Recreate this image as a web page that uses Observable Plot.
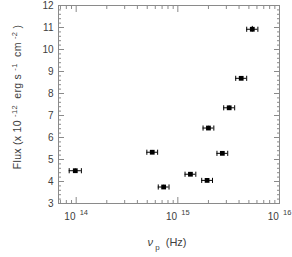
<!DOCTYPE html>
<html><head><meta charset="utf-8">
<script src="https://cdn.jsdelivr.net/npm/d3@7"></script>
<script src="https://cdn.jsdelivr.net/npm/@observablehq/plot@0.6"></script>
<style>
body{margin:0;background:#fff}
svg{font-family:"Liberation Sans",Arial,Helvetica,sans-serif}
</style>
</head><body><div id="chart"></div>
<script>
// peak frequency (Hz) and flux (x 1e-12 erg s^-1 cm^-2)
const nu       = [9.8e13, 5.6e14, 7.25e14, 1.33e15, 1.94e15, 2.0e15, 2.74e15, 3.2e15, 4.2e15, 5.4e15];
const flux     = [4.49,   5.33,   3.75,    4.33,    4.05,    6.43,   5.28,    7.35,   8.69,   10.92];
const nuErrDex = [0.060,  0.053,  0.053,   0.053,   0.053,   0.053,  0.053,   0.054,  0.054,  0.055];
const fluxErr  = [0.08,   0.08,   0.08,    0.08,    0.08,    0.08,   0.08,    0.08,   0.08,   0.13];

const xMajor = [1e14, 1e15, 1e16];
const xMinor = [7e13, 8e13, 9e13, 2e14, 3e14, 4e14, 5e14, 6e14, 7e14, 8e14, 9e14,
                2e15, 3e15, 4e15, 5e15, 6e15, 7e15, 8e15, 9e15];
const yMajor = [3, 4, 5, 6, 7, 8, 9, 10, 11, 12];
const yMinor = [3.2,3.4,3.6,3.8,4.2,4.4,4.6,4.8,5.2,5.4,5.6,5.8,6.2,6.4,6.6,6.8,
                7.2,7.4,7.6,7.8,8.2,8.4,8.6,8.8,9.2,9.4,9.6,9.8,10.2,10.4,10.6,10.8,
                11.2,11.4,11.6,11.8];

const data = nu.map((v, i) => ({
  nu: v, flux: flux[i],
  lo: v / Math.pow(10, nuErrDex[i]), hi: v * Math.pow(10, nuErrDex[i]),
  ylo: flux[i] - fluxErr[i], yhi: flux[i] + fluxErr[i]
}));

const axisColor = "#8a8a8a";
const textColor = "#404040";
const cap = {draw(ctx, size) { const h = Math.sqrt(size); ctx.moveTo(0, -h / 2); ctx.lineTo(0, h / 2); }};
const empty = () => "";

const plot = Plot.plot({
  width: 292, height: 257,
  marginLeft: 58, marginRight: 13, marginTop: 5, marginBottom: 54,
  style: {fontSize: "10px", background: "#fff"},
  x: {type: "log", domain: [6.7e13, 1e16]},
  y: {domain: [3, 12]},
  marks: [
    Plot.frame({stroke: axisColor}),
    Plot.axisX({ticks: xMajor, anchor: "bottom", tickSize: -6, tickPadding: 15, stroke: axisColor, fill: textColor,
      tickFormat: d => "10^" + Math.round(Math.log10(d)), label: null}),
    Plot.axisX({ticks: xMinor, anchor: "bottom", tickSize: -3, stroke: axisColor, tickFormat: empty, label: null}),
    Plot.axisX({ticks: xMajor, anchor: "top", tickSize: -6, stroke: axisColor, tickFormat: empty, label: null}),
    Plot.axisX({ticks: xMinor, anchor: "top", tickSize: -3, stroke: axisColor, tickFormat: empty, label: null}),
    Plot.axisY({ticks: yMajor, anchor: "left", tickSize: -6, tickPadding: 11, stroke: axisColor, fill: textColor,
      tickFormat: d => String(d), label: null}),
    Plot.axisY({ticks: yMinor, anchor: "left", tickSize: -3, stroke: axisColor, tickFormat: empty, label: null}),
    Plot.axisY({ticks: yMajor, anchor: "right", tickSize: -6, stroke: axisColor, tickFormat: empty, label: null}),
    Plot.axisY({ticks: yMinor, anchor: "right", tickSize: -3, stroke: axisColor, tickFormat: empty, label: null}),
    Plot.ruleY(data, {y: "flux", x1: "lo", x2: "hi", stroke: "#000", strokeWidth: 1}),
    Plot.ruleX(data, {x: "nu", y1: "ylo", y2: "yhi", stroke: "#000", strokeWidth: 1}),
    Plot.dot(data, {x: "lo", y: "flux", symbol: cap, r: 2.9, stroke: "#000", fill: "none", strokeWidth: 1}),
    Plot.dot(data, {x: "hi", y: "flux", symbol: cap, r: 2.9, stroke: "#000", fill: "none", strokeWidth: 1}),
    Plot.dot(data, {x: "nu", y: "flux", symbol: "square", r: 2.7, fill: "#000", stroke: "none"})
  ]
});

document.getElementById("chart").appendChild(plot);
const svg = d3.select(plot);

svg.selectAll("text").each(function () {
  const m = /^10\^(\d+)$/.exec(this.textContent);
  if (m) {
    const t = d3.select(this);
    t.text("10");
    t.append("tspan").attr("font-size", "7.5px").attr("dy", "-5").text("  " + m[1]);
  }
});

const yl = svg.append("text")
  .attr("transform", "translate(21,97) rotate(-90)")
  .attr("text-anchor", "middle").attr("fill", textColor).attr("font-size", "10.5px")
  .attr("letter-spacing", "0.3");
yl.append("tspan").text("Flux (x 10 ");
yl.append("tspan").attr("font-size", "7.5px").attr("dy", "-4.5").text("-12");
yl.append("tspan").attr("dy", "4.5").text("  erg s ");
yl.append("tspan").attr("font-size", "7.5px").attr("dy", "-4.5").text("-1");
yl.append("tspan").attr("dy", "4.5").text("  cm ");
yl.append("tspan").attr("font-size", "7.5px").attr("dy", "-4.5").text("-2");
yl.append("tspan").attr("dy", "4.5").text(" )");

const xl = svg.append("text")
  .attr("x", 167).attr("y", 246)
  .attr("text-anchor", "middle").attr("fill", textColor).attr("font-size", "11px");
xl.append("tspan").attr("font-style", "italic").text("ν");
xl.append("tspan").attr("font-size", "8px").attr("dy", "4").text(" p");
xl.append("tspan").attr("dy", "-4").text("  (Hz)");
</script>
</body></html>
